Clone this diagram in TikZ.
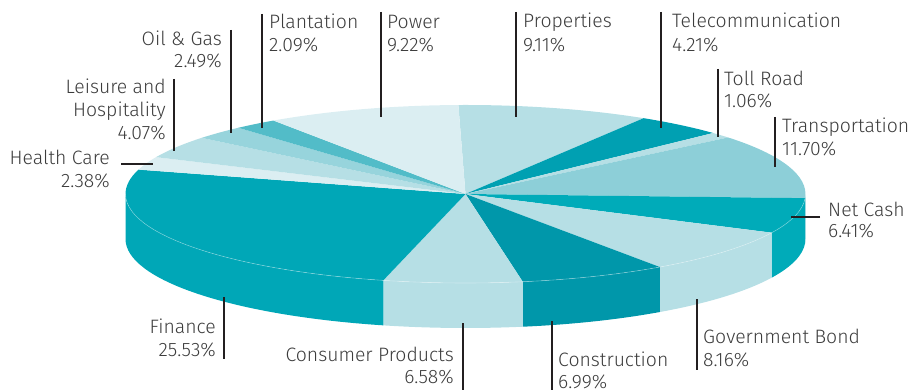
\documentclass[tikz,border=0pt]{standalone}
\usepackage{fontspec}
\setmainfont{Fira Sans Light}
\definecolor{cPower}{HTML}{DBEEF2}
\definecolor{cLight}{HTML}{B6DFE5}
\definecolor{cTele}{HTML}{00A0B2}
\definecolor{cTrans}{HTML}{8DCFD8}
\definecolor{cNet}{HTML}{00ABB9}
\definecolor{cCons}{HTML}{0097AA}
\definecolor{cFin}{HTML}{00A7B7}
\definecolor{cOil}{HTML}{97D4DC}
\definecolor{cPlant}{HTML}{52BCC8}
\definecolor{leadc}{HTML}{231F20}
\definecolor{labc}{HTML}{3C3C3C}
\tikzset{
  lead/.style={draw=leadc, line width=2.2pt},
  lab/.style={inner sep=0pt, text=labc, font=\fontsize{19.4}{23}\selectfont},
}
\newcommand\topslice[3]{\fill[#3] (C) -- ++(#1:340pt and 89pt) arc[start angle=#1, end angle=#2, x radius=340pt, y radius=89pt] -- cycle;}
\newcommand\sideslice[3]{\fill[#3] (C) ++(#1:340pt and 89pt) arc[start angle=#1, end angle=#2, x radius=340pt, y radius=89pt] -- ++(0,-45) arc[start angle=#2, end angle=#1, x radius=340pt, y radius=89pt] -- cycle;}
\begin{document}
\begin{tikzpicture}[x=1pt,y=1pt]
\useasboundingbox (0,0) rectangle (914,390);
\coordinate (C) at (465.5,196);
% side faces
\sideslice{0}{-2.688}{cTrans}
\sideslice{-2.688}{-25.764}{cNet}
\sideslice{-25.764}{-55.14}{cLight}
\sideslice{-55.14}{-80.304}{cCons}
\sideslice{-80.304}{-103.992}{cLight}
\sideslice{-103.992}{-180}{cFin}
% top faces
\topslice{91.2}{58.404}{cLight}
\topslice{58.404}{43.248}{cTele}
\topslice{43.248}{39.432}{cLight}
\topslice{39.432}{-2.688}{cTrans}
\topslice{-2.688}{-25.764}{cNet}
\topslice{-25.764}{-55.14}{cLight}
\topslice{-55.14}{-80.304}{cCons}
\topslice{-80.304}{-103.992}{cLight}
\topslice{-103.992}{-195.9}{cFin}
\topslice{164.1}{155.532}{cPower}
\topslice{155.532}{140.88}{cLight}
\topslice{140.88}{131.916}{cOil}
\topslice{131.916}{124.392}{cPlant}
\topslice{124.392}{91.2}{cPower}
\draw[white, opacity=0.35, line width=0.6pt] (C) ++(0:340pt and 89pt) arc[start angle=0, end angle=-180, x radius=340pt, y radius=89pt];
% leader line end points
\coordinate (plA) at (262,376); \coordinate (plB) at (262,262);
\coordinate (poA) at (381,378); \coordinate (poB) at (381,273);
\coordinate (ogA) at (231,360); \coordinate (ogB) at (231,257);
\coordinate (leA) at (174,311); \coordinate (leB) at (174,239);
\coordinate (hcA) at (121,226); \coordinate (hcB) at (153,226);
\coordinate (prA) at (516,378); \coordinate (prB) at (516,273);
\coordinate (teA) at (661,378); \coordinate (teB) at (661,262);
\coordinate (trA) at (718,321); \coordinate (trB) at (718,253);
\coordinate (tpA) at (775,273); \coordinate (tpB) at (775,223);
\coordinate (ncA) at (820,173); \coordinate (ncB) at (791,173);
\coordinate (gbA) at (697,20); \coordinate (gbB) at (697,91);
\coordinate (coA) at (552,0); \coordinate (coB) at (552,69);
\coordinate (cpA) at (463,0); \coordinate (cpB) at (463,67);
\coordinate (fiA) at (224,31); \coordinate (fiB) at (224,93);
\foreach \a/\b in {plA/plB,poA/poB,ogA/ogB,leA/leB,hcA/hcB,prA/prB,teA/teB,trA/trB,tpA/tpB,ncA/ncB,gbA/gbB,coA/coB,cpA/cpB,fiA/fiB}
  \draw[lead] (\a) -- (\b);
% labels
\node[lab, anchor=base west] (pl1) at (269,361) {Plantation};
\node[lab, anchor=base west] (pl2) at (269,338) {2.09\%};
\node[lab, anchor=base west] (po1) at (387,361) {Power};
\node[lab, anchor=base west] (po2) at (387,338) {9.22\%};
\node[lab, anchor=base east] (og1) at (222,344) {Oil \& Gas};
\node[lab, anchor=base east] (og2) at (222,322) {2.49\%};
\node[lab, anchor=base east] (le1) at (166,296) {Leisure and};
\node[lab, anchor=base east] (le2) at (166,273) {Hospitality};
\node[lab, anchor=base east] (le3) at (166,250) {4.07\%};
\node[lab, anchor=base east] (hc1) at (110,225) {Health Care};
\node[lab, anchor=base east] (hc2) at (110,202) {2.38\%};
\node[lab, anchor=base west] (pr1) at (523,362) {Properties};
\node[lab, anchor=base west] (pr2) at (523,338) {9.11\%};
\node[lab, anchor=base west] (te1) at (672,362) {Telecommunication};
\node[lab, anchor=base west] (te2) at (672,338) {4.21\%};
\node[lab, anchor=base west] (tr1) at (724,304) {Toll Road};
\node[lab, anchor=base west] (tr2) at (724,282) {1.06\%};
\node[lab, anchor=base west] (tp1) at (782,257) {Transportation};
\node[lab, anchor=base west] (tp2) at (782,234) {11.70\%};
\node[lab, anchor=base west] (nc1) at (828,173) {Net Cash};
\node[lab, anchor=base west] (nc2) at (828,152) {6.41\%};
\node[lab, anchor=base west] (gb1) at (703,46) {Government Bond};
\node[lab, anchor=base west] (gb2) at (703,23) {8.16\%};
\node[lab, anchor=base west] (co1) at (558,23) {Construction};
\node[lab, anchor=base west] (co2) at (558,1) {6.99\%};
\node[lab, anchor=base east] (cp1) at (454,28) {Consumer Products};
\node[lab, anchor=base east] (cp2) at (454,6) {6.58\%};
\node[lab, anchor=base east] (fi1) at (216,56) {Finance};
\node[lab, anchor=base east] (fi2) at (216,33) {25.53\%};
\end{tikzpicture}
\end{document}
